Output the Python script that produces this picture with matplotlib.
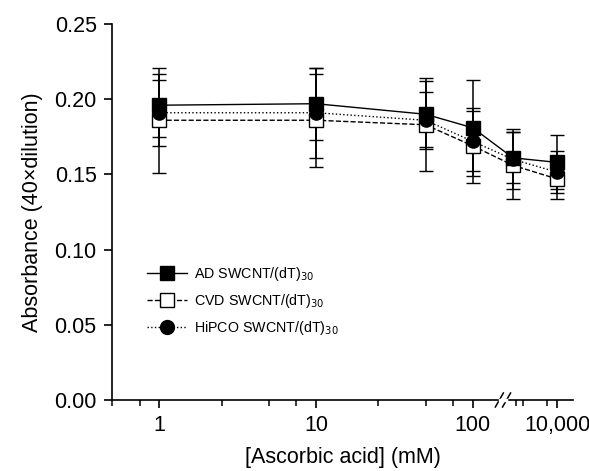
import numpy as np
import matplotlib
matplotlib.use("Agg")
import matplotlib.pyplot as plt
from matplotlib.lines import Line2D
from matplotlib.ticker import FixedLocator, FixedFormatter, NullFormatter

plt.rcParams['font.family'] = ['Liberation Sans', 'DejaVu Sans']

# ---- data ----
conc = [1, 10, 50, 100, 500, 10000]
ad = [0.196, 0.197, 0.190, 0.181, 0.161, 0.158]
ad_err = [0.021, 0.024, 0.022, 0.032, 0.017, 0.018]
cvd = [0.186, 0.186, 0.183, 0.169, 0.156, 0.147]
cvd_err = [0.035, 0.031, 0.031, 0.025, 0.0225, 0.0135]
hipco = [0.191, 0.191, 0.186, 0.172, 0.160, 0.1515]
hipco_err = [0.022, 0.030, 0.019, 0.020, 0.020, 0.014]

labels = ['AD SWCNT/(dT)$_{30}$', 'CVD SWCNT/(dT)$_{30}$', 'HiPCO SWCNT/(dT)$_{30}$']
major_ticks = [1, 10, 100, 10000]
major_labels = ['1', '10', '100', '10,000']
minor_ticks = [0.5, 0.75, 2.5, 5, 7.5, 25, 50, 75, 600, 1000, 5000]
y_ticks = [0.00, 0.05, 0.10, 0.15, 0.20, 0.25]

# ---- broken log scale ----
L1, L2 = 2.193, 2.402
K = 33.8 / 156.7
EPS = 0.001
T2 = L1 + (L2 - L1) * EPS


def fwd(v):
    v = np.asarray(v, dtype=float)
    l = np.log10(np.maximum(v, 1e-300))
    return np.where(l <= L1, l,
                    np.where(l <= L2, L1 + (l - L1) * EPS, T2 + (l - L2) * K))


def inv(t):
    t = np.asarray(t, dtype=float)
    l = np.where(t <= L1, t,
                 np.where(t <= T2, L1 + (t - L1) / EPS, L2 + (t - T2) / K))
    return 10 ** np.clip(l, -300, 300)


W, H = 589, 471
fig = plt.figure(figsize=(W / 100, H / 100), dpi=100)
ax = fig.add_axes([112 / W, (H - 400) / H, (573 - 112) / W, (400 - 24) / H])
ax.set_xscale('function', functions=(fwd, inv))

styles = {
    labels[1]: (cvd, cvd_err, '--', 's', 'white'),
    labels[2]: (hipco, hipco_err, ':', 'o', 'black'),
    labels[0]: (ad, ad_err, '-', 's', 'black'),
}
for lab, (y, e, ls, mk, mfc) in styles.items():
    ax.errorbar(conc, y, yerr=e, fmt=mk, ls=ls, color='black', mfc=mfc,
                mec='black', ms=9.5, mew=1.0, lw=1.0, elinewidth=1.1,
                capsize=5, capthick=1.1)

ax.set_xlim(0.5, 29700)
ax.set_ylim(0, 0.25)

ax.spines['top'].set_visible(False)
ax.spines['right'].set_visible(False)
for s in ('left', 'bottom'):
    ax.spines[s].set_linewidth(1.2)

ax.xaxis.set_major_locator(FixedLocator(major_ticks))
ax.xaxis.set_major_formatter(FixedFormatter(major_labels))
ax.xaxis.set_minor_locator(FixedLocator(minor_ticks))
ax.xaxis.set_minor_formatter(NullFormatter())
ax.set_yticks(y_ticks)
ax.set_yticklabels([f'{v:.2f}' for v in y_ticks])
ax.tick_params(axis='both', which='major', direction='out', length=6, width=1.2,
               labelsize=15.5, pad=5)
ax.tick_params(axis='x', which='minor', direction='out', length=4, width=1.1)

ax.set_xlabel('[Ascorbic acid] (mM)', fontsize=15.5, labelpad=8)
ax.set_ylabel('Absorbance (40\u00d7dilution)', fontsize=15.5, labelpad=8)

# break marks
fig.canvas.draw()
xb = ax.transAxes.inverted().transform(ax.transData.transform((10 ** L1, 0)))[0]
dx = 4 / (573 - 112)
dy = 7 / (400 - 24)
for off in (-dx * 0.9, dx * 0.9):
    ax.plot([xb + off - dx, xb + off + dx], [-dy, dy], transform=ax.transAxes,
            color='black', lw=1.1, clip_on=False)
ax.plot([xb - dx * 0.9 + 0.002, xb + dx * 0.9 - 0.002], [0, 0], transform=ax.transAxes,
        color='white', lw=2.5, clip_on=False, zorder=5)

proxies = []
for lab in labels:
    y, e, ls, mk, mfc = styles[lab]
    proxies.append(Line2D([], [], ls=ls, marker=mk, color='black', mfc=mfc,
                          mec='black', ms=10, mew=1.0, lw=1.0))
leg = ax.legend(proxies, labels, loc='upper left',
                bbox_to_anchor=(0.076, 0.36), frameon=False, fontsize=10.3,
                handlelength=2.8, handletextpad=0.5, labelspacing=0.65,
                borderpad=0, borderaxespad=0)

fig.savefig('out.png', dpi=100)
